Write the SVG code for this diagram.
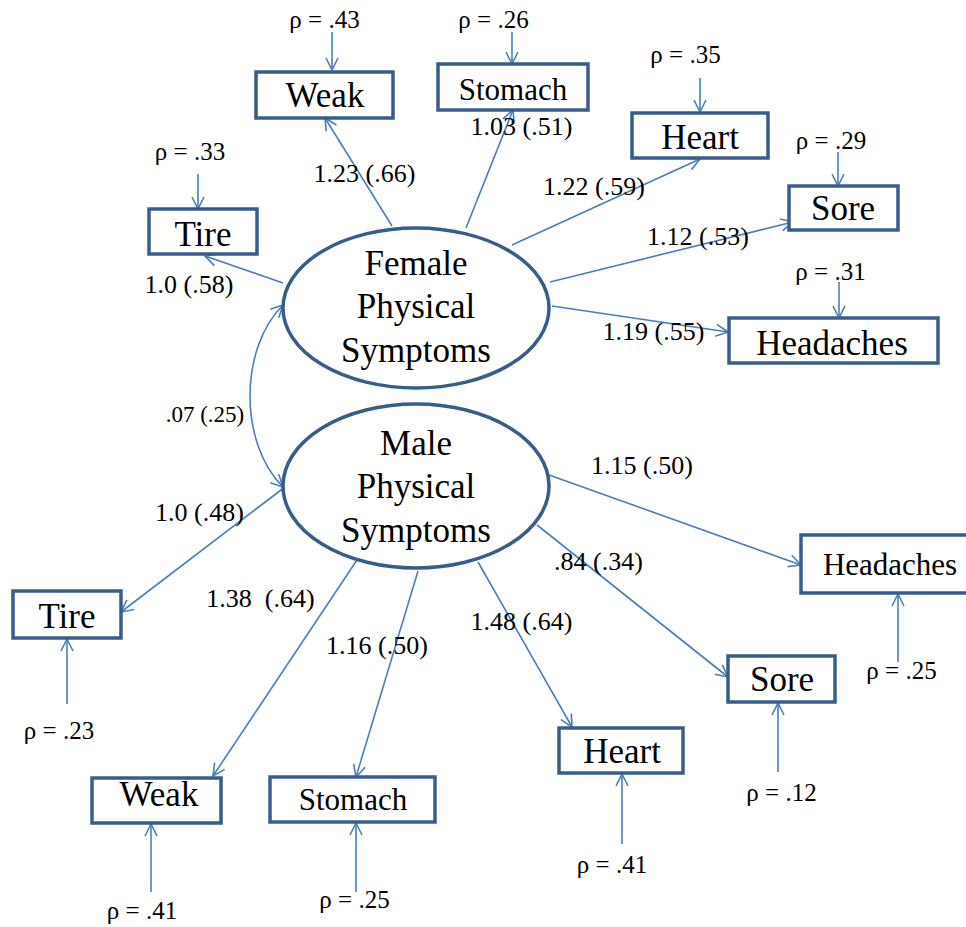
<svg xmlns="http://www.w3.org/2000/svg" width="966" height="927" viewBox="0 0 966 927" font-family="Liberation Serif, DejaVu Serif, serif">
<defs>
<marker id="ah" markerUnits="userSpaceOnUse" markerWidth="14" markerHeight="14" refX="12" refY="6" orient="auto-start-reverse" viewBox="-1 -1 14 14">
<path d="M0,0 L12,6 L0,12" fill="none" stroke="#4A7EBB" stroke-width="1.6"/>
</marker>
<style>
.c{fill:none;stroke:#4A7EBB;stroke-width:1.6;marker-end:url(#ah)}
.b{fill:#fff;stroke:#385D8A;stroke-width:3.5}
.e{fill:#fff;stroke:#385D8A;stroke-width:3.5}
.t{fill:#000;text-anchor:middle}
.n{font-size:35px}
.s{font-size:31px}
.p{font-size:26px;white-space:pre}
.r{font-size:25px}
.cv{font-size:23px}
</style>
</defs>
<rect width="966" height="927" fill="#fff"/>
<g id="connectors">
<path class="c" d="M283,283 L205,256"/>
<path class="c" d="M392,226 L325,118"/>
<path class="c" d="M466,228 L513,110"/>
<path class="c" d="M512,245 L700,159"/>
<path class="c" d="M550,282 L793,222"/>
<path class="c" d="M552,306 L728,332"/>
<path class="c" d="M283,305 C239,349 239,443 283,487" style="marker-start:url(#ah)"/>
<path class="c" d="M285,487 L121,612"/>
<path class="c" d="M365,548 L213,776"/>
<path class="c" d="M418,571 L356,777"/>
<path class="c" d="M478,562 L572,727"/>
<path class="c" d="M537,525 L728,677"/>
<path class="c" d="M549,475 L801,565"/>
<path class="c" d="M332,32 L332,70"/>
<path class="c" d="M512,32 L512,64"/>
<path class="c" d="M700,78 L700,112"/>
<path class="c" d="M198,174 L198,209"/>
<path class="c" d="M838,152 L838,186"/>
<path class="c" d="M839,282 L839,318"/>
<path class="c" d="M67,704 L67,639"/>
<path class="c" d="M151,892 L151,824"/>
<path class="c" d="M356,892 L356,823"/>
<path class="c" d="M622,844 L622,774"/>
<path class="c" d="M778,772 L778,703"/>
<path class="c" d="M898,662 L898,594"/>
<g font-family="Liberation Serif">
<text class="t p" x="364.5" y="182">1.23 (.66)</text>
<text class="t p" x="521.5" y="135">1.03 (.51)</text>
<text class="t p" x="594" y="195">1.22 (.59)</text>
<text class="t p" x="698" y="245">1.12 (.53)</text>
<text class="t p" x="653.5" y="340">1.19 (.55)</text>
<text class="t p" x="189" y="293">1.0 (.58)</text>
<text class="t cv" x="205" y="422">.07 (.25)</text>
<text class="t p" x="199.5" y="521">1.0 (.48)</text>
<text class="t p" x="260.5" y="607">1.38  (.64)</text>
<text class="t p" x="377" y="654">1.16 (.50)</text>
<text class="t p" x="642" y="474">1.15 (.50)</text>
<text class="t p" x="598.5" y="570">.84 (.34)</text>
<text class="t p" x="521.5" y="630">1.48 (.64)</text>
<text class="t r" x="324.5" y="28">ρ = .43</text>
<text class="t r" x="493.5" y="28">ρ = .26</text>
<text class="t r" x="685.5" y="63">ρ = .35</text>
<text class="t r" x="190" y="160">ρ = .33</text>
<text class="t r" x="831" y="149">ρ = .29</text>
<text class="t r" x="830.5" y="280">ρ = .31</text>
<text class="t r" x="59" y="739">ρ = .23</text>
<text class="t r" x="142" y="919">ρ = .41</text>
<text class="t r" x="354.5" y="908">ρ = .25</text>
<text class="t r" x="612" y="873">ρ = .41</text>
<text class="t r" x="781.5" y="801">ρ = .12</text>
<text class="t r" x="901.5" y="679">ρ = .25</text>
</g>
</g>
<g id="female" font-family="Liberation Serif">
<ellipse class="e" cx="416" cy="308" rx="133" ry="80"/>
<text class="t n" x="416" y="275">Female</text>
<text class="t n" x="416" y="318">Physical</text>
<text class="t n" x="416" y="362">Symptoms</text>
</g>
<g id="male" font-family="Liberation Serif">
<ellipse class="e" cx="416" cy="486" rx="133" ry="82"/>
<text class="t n" x="416" y="455">Male</text>
<text class="t n" x="416" y="498">Physical</text>
<text class="t n" x="416" y="542">Symptoms</text>
</g>
<g font-family="Liberation Serif">
<g id="f-weak"><rect class="b" x="256" y="72" width="137" height="46"/><text class="t n" x="325" y="107">Weak</text></g>
<g id="f-stomach"><rect class="b" x="438" y="64" width="150" height="46"/><text class="t s" x="513" y="100">Stomach</text></g>
<g id="f-heart"><rect class="b" x="632" y="113" width="136" height="45"/><text class="t n" x="700" y="149">Heart</text></g>
<g id="f-sore"><rect class="b" x="789" y="186" width="109" height="44"/><text class="t n" x="843" y="220">Sore</text></g>
<g id="f-headaches"><rect class="b" x="729" y="318" width="209" height="45"/><text class="t n" x="832" y="355">Headaches</text></g>
<g id="f-tire"><rect class="b" x="149" y="209" width="108" height="45"/><text class="t n" x="203" y="246">Tire</text></g>
<g id="m-tire"><rect class="b" x="13" y="591" width="108" height="47"/><text class="t n" x="67" y="628">Tire</text></g>
<g id="m-weak"><rect class="b" x="92" y="778" width="129" height="45"/><text class="t n" x="159" y="806">Weak</text></g>
<g id="m-stomach"><rect class="b" x="270" y="777" width="165" height="45"/><text class="t s" x="353" y="810">Stomach</text></g>
<g id="m-heart"><rect class="b" x="559" y="728" width="124" height="45"/><text class="t n" x="622" y="763">Heart</text></g>
<g id="m-sore"><rect class="b" x="728" y="656" width="107" height="46"/><text class="t n" x="782" y="691">Sore</text></g>
<g id="m-headaches"><rect class="b" x="801" y="535" width="170" height="58"/><text class="t s" x="890" y="575">Headaches</text></g>
</g>
</svg>
